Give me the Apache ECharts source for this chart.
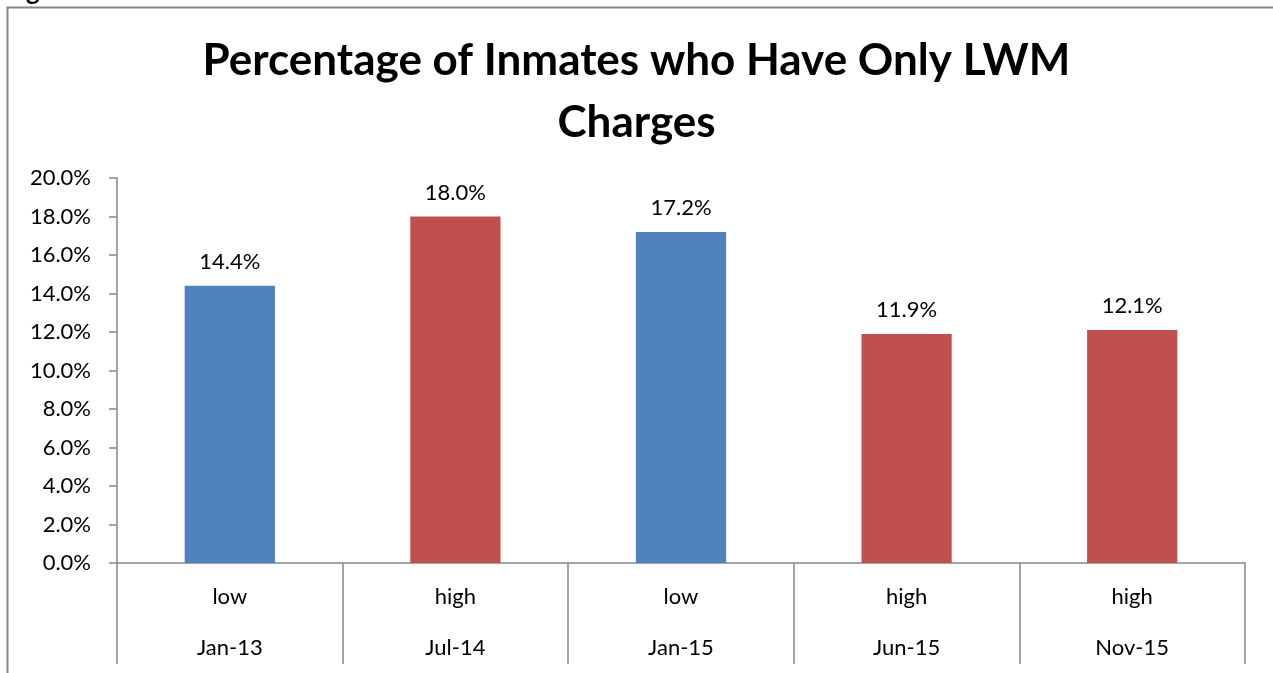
<!DOCTYPE html>
<html>
<head>
<meta charset="utf-8">
<script src="https://cdn.jsdelivr.net/npm/echarts@6/dist/echarts.min.js"></script>
<style>
  html, body { margin: 0; padding: 0; background: #fff; }
  #chart { width: 1273px; height: 673px; }
</style>
</head>
<body>
<div id="chart"></div>
<script>
const months = ['Jan-13', 'Jul-14', 'Jan-15', 'Jun-15', 'Nov-15'];
const levels = ['low', 'high', 'low', 'high', 'high'];
const values = [0.144, 0.180, 0.172, 0.119, 0.121];

const levelColor = { low: '#4F81BD', high: '#C0504D' };
const font = 'Lato';

const chart = echarts.init(document.getElementById('chart'));

const option = {
  animation: false,
  backgroundColor: '#fff',
  title: {
    text: 'Percentage of Inmates who Have Only LWM\nCharges',
    left: 'center',
    top: 25,
    textStyle: {
      fontFamily: font,
      fontWeight: 'bold',
      fontSize: 44,
      lineHeight: 62,
      color: '#000'
    }
  },
  graphic: [
    // frame around the chart (left and top edges visible)
    {
      type: 'polyline',
      shape: { points: [[7.5, 673], [7.5, 7.5], [1273, 7.5]] },
      style: { stroke: '#868686', lineWidth: 2, fill: null }
    },
    // descender of text above the crop
    {
      type: 'text',
      left: 26,
      top: -21,
      style: { text: 'g', font: 'bold 26px Lato', fill: '#000' }
    }
  ],
  grid: {
    left: 117,
    right: 28,
    top: 178,
    bottom: 109
  },
  xAxis: {
    type: 'category',
    data: months.map((m, i) => levels[i] + '\n' + m),
    axisLine: { lineStyle: { color: '#868686', width: 1.5 } },
    axisTick: {
      show: true,
      alignWithLabel: false,
      length: 101,
      lineStyle: { color: '#868686', width: 1.5 }
    },
    axisLabel: {
      margin: 8,
      fontFamily: font,
      fontSize: 22,
      lineHeight: 51,
      color: '#000'
    }
  },
  yAxis: {
    type: 'value',
    min: 0,
    max: 0.2,
    interval: 0.02,
    splitLine: { show: false },
    axisLine: { show: true, lineStyle: { color: '#868686', width: 1.5 } },
    axisTick: { show: true, length: 8, lineStyle: { color: '#868686', width: 1.5 } },
    axisLabel: {
      margin: 26,
      fontFamily: font,
      fontSize: 22,
      color: '#000',
      formatter: v => (v * 100).toFixed(1) + '%'
    }
  },
  series: [
    {
      type: 'bar',
      barWidth: '40%',
      data: values.map((v, i) => ({
        value: v,
        itemStyle: { color: levelColor[levels[i]] }
      })),
      label: {
        show: true,
        position: 'top',
        distance: 13,
        fontFamily: font,
        fontSize: 22,
        color: '#000',
        formatter: p => (p.value * 100).toFixed(1) + '%'
      }
    }
  ]
};

chart.setOption(option);
</script>
</body>
</html>
